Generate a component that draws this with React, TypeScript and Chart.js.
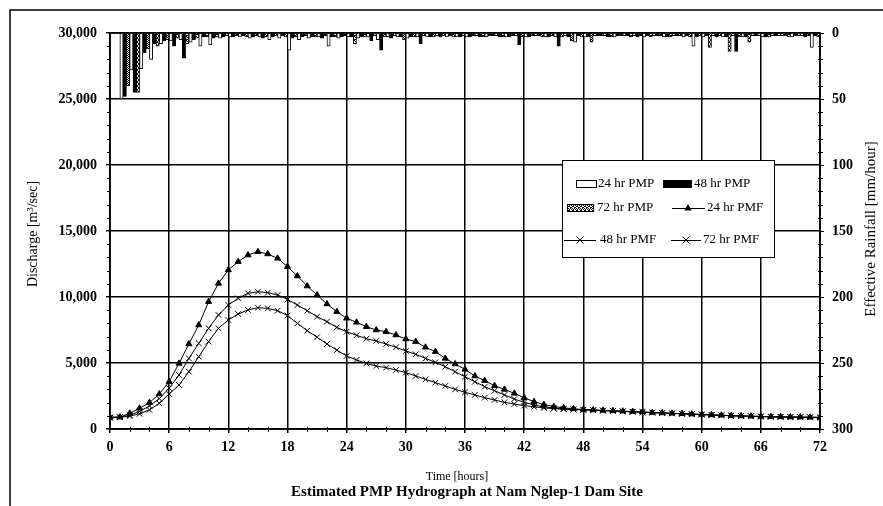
import React, { useEffect, useRef } from 'react';
import { Chart, registerables } from 'chart.js';
Chart.register(...registerables);

// ---------- DATA ----------
const hours = [
  0, 1, 2, 3, 4, 5, 6, 7, 8, 9, 10, 11, 12, 13, 14, 15, 16, 17, 18, 19, 20, 21, 22, 23, 24,
  25, 26, 27, 28, 29, 30, 31, 32, 33, 34, 35, 36, 37, 38, 39, 40, 41, 42, 43, 44, 45, 46, 47, 48,
  49, 50, 51, 52, 53, 54, 55, 56, 57, 58, 59, 60, 61, 62, 63, 64, 65, 66, 67, 68, 69, 70, 71, 72,
];

// Discharge (m3/sec), hourly 0..72
const pmf24 = [
  900, 900, 1190, 1570, 2000, 2650, 3590, 4970, 6440, 7880, 9650, 11030, 12050,
  12680, 13180, 13430, 13260, 12930, 12300,
  11590, 10830, 10150, 9470, 8890, 8390, 8080, 7750, 7500, 7370, 7120, 6820,
  6620, 6190, 5860, 5350, 4920, 4520, 4015, 3660, 3280, 3000, 2700, 2370, 2070,
  1850, 1700, 1600, 1530, 1480,
  1440, 1410, 1380, 1350, 1320, 1290, 1250, 1220, 1190, 1160, 1130, 1100,
  1070, 1040, 1010, 990, 970, 950, 930, 920, 910, 900, 890, 880,
];
const pmf48 = [
  880, 900, 1050, 1330, 1750, 2300, 3100, 4090, 5350, 6490, 7630, 8640, 9390,
  9900, 10280, 10400, 10330, 10150, 9820,
  9390, 8960, 8510, 8130, 7700, 7370, 7100, 6840, 6670, 6440, 6190, 5910,
  5660, 5350, 5050, 4720, 4340, 3960, 3580, 3200, 2900, 2580, 2270, 2020, 1820,
  1680, 1590, 1530, 1490, 1460,
  1430, 1400, 1370, 1340, 1310, 1280, 1250, 1220, 1190, 1160, 1130, 1100,
  1070, 1040, 1010, 990, 970, 950, 930, 920, 910, 900, 890, 880,
];
const pmf72 = [
  850, 880, 980, 1150, 1450, 1950, 2650, 3330, 4340, 5480, 6620, 7630, 8260,
  8710, 9020, 9190, 9140, 8960, 8600,
  8000, 7450, 6950, 6440, 5980, 5530, 5230, 4970, 4770, 4650, 4470, 4270,
  4015, 3760, 3510, 3260, 3000, 2780, 2580, 2370, 2200, 2020, 1890, 1770, 1680,
  1600, 1540, 1500, 1470, 1450,
  1420, 1390, 1360, 1330, 1300, 1270, 1240, 1210, 1180, 1150, 1120, 1090,
  1060, 1030, 1000, 980, 960, 940, 920, 910, 900, 890, 880, 870,
];

// Effective rainfall (mm/hour) for hourly intervals 0-1 .. 71-72
const pmp24 = [
  0, 50, 28, 27, 20, 8, 6, 5, 7, 10, 9, 4,
  3, 3, 4, 3, 5, 4, 13, 5, 4, 3, 10, 4,
  3, 4, 3, 5, 3, 3, 4, 3, 3, 2, 3, 3,
  3, 2, 3, 2, 3, 2, 3, 2, 3, 3, 2, 7,
  3, 2, 2, 3, 2, 2, 3, 2, 3, 2, 3, 10,
  3, 2, 3, 2, 3, 2, 3, 2, 2, 3, 2, 11,
];
const pmp48 = [
  0, 48, 45, 15, 8, 6, 10, 19, 5, 3, 4, 3,
  3, 2, 3, 4, 3, 2, 4, 3, 3, 4, 3, 3,
  3, 3, 6, 13, 4, 3, 3, 8, 3, 3, 2, 3,
  3, 3, 2, 3, 3, 9, 3, 2, 3, 10, 3, 2,
  3, 2, 3, 2, 2, 3, 2, 2, 3, 2, 2, 3,
  2, 3, 3, 14, 3, 2, 3, 2, 2, 2, 3, 2,
];
const pmp72 = [
  0, 40, 45, 12, 10, 5, 4, 8, 4, 3, 3, 2,
  2, 3, 2, 3, 2, 3, 3, 2, 3, 2, 3, 2,
  8, 3, 2, 3, 2, 5, 3, 2, 3, 2, 3, 2,
  2, 3, 2, 3, 2, 3, 2, 3, 2, 3, 6, 3,
  7, 2, 3, 2, 3, 2, 3, 2, 3, 2, 3, 2,
  11, 2, 14, 3, 7, 2, 3, 2, 3, 2, 2, 3,
];

const xTicks = [0, 6, 12, 18, 24, 30, 36, 42, 48, 54, 60, 66, 72];
const leftTicks = [0, 5000, 10000, 15000, 20000, 25000, 30000];
const rightTicks = [0, 50, 100, 150, 200, 250, 300];

const seriesNames = ['24 hr PMP', '48 hr PMP', '72 hr PMP', '24 hr PMF', '48 hr PMF', '72 hr PMF'];
const xTitle = 'Time [hours]';
const leftTitle = 'Discharge [m³/sec]';
const rightTitle = 'Effective Rainfall [mm/hour]';
const chartTitle = 'Estimated PMP Hydrograph at Nam Nglep-1 Dam Site';

// ---------- HELPERS ----------
const SERIF = '"Liberation Serif", "Times New Roman", serif';

function makePattern(): CanvasPattern | string {
  const c = document.createElement('canvas');
  c.width = 4;
  c.height = 4;
  const g = c.getContext('2d');
  if (!g) return '#777';
  g.fillStyle = '#fff';
  g.fillRect(0, 0, 4, 4);
  g.fillStyle = '#000';
  const dots = [[0, 0], [2, 0], [1, 1], [3, 1], [0, 2], [1, 2], [3, 3], [2, 3]];
  dots.forEach(([x, y]) => g.fillRect(x, y, 1, 1));
  return g.createPattern(c, 'repeat') || '#777';
}

function drawTriangle(ctx: CanvasRenderingContext2D, x: number, y: number, r: number) {
  ctx.beginPath();
  ctx.moveTo(x, y - r);
  ctx.lineTo(x + r * 0.9, y + r * 0.6);
  ctx.lineTo(x - r * 0.9, y + r * 0.6);
  ctx.closePath();
  ctx.fill();
}
function drawCross(ctx: CanvasRenderingContext2D, x: number, y: number, r: number) {
  ctx.beginPath();
  ctx.moveTo(x - r, y - r);
  ctx.lineTo(x + r, y + r);
  ctx.moveTo(x + r, y - r);
  ctx.lineTo(x - r, y + r);
  ctx.stroke();
}

export default function App() {
  const ref = useRef<HTMLCanvasElement | null>(null);

  useEffect(() => {
    if (!ref.current) return;
    const pattern = makePattern();

    const decor = {
      id: 'decor',
      afterDraw(chart: any) {
        const { ctx, chartArea: a, scales } = chart;
        ctx.save();
        // outer frame (top & left)
        ctx.strokeStyle = '#000';
        ctx.lineWidth = 1.5;
        ctx.beginPath();
        ctx.moveTo(10, 506);
        ctx.lineTo(10, 10);
        ctx.lineTo(883, 10);
        ctx.stroke();
        // plot border
        ctx.lineWidth = 1.5;
        ctx.strokeRect(a.left, a.top, a.right - a.left, a.bottom - a.top);
        // minor ticks
        ctx.lineWidth = 1;
        ctx.beginPath();
        for (let v = 1000; v < 30000; v += 1000) {
          if (v % 5000 === 0) continue;
          const p = Math.round(scales.y.getPixelForValue(v)) + 0.5;
          ctx.moveTo(a.left - 3, p);
          ctx.lineTo(a.left, p);
        }
        for (let v = 10; v < 300; v += 10) {
          if (v % 50 === 0) continue;
          const p = Math.round(scales.y1.getPixelForValue(v)) + 0.5;
          ctx.moveTo(a.right - 2, p);
          ctx.lineTo(a.right + 3, p);
        }
        for (let v = 2; v < 72; v += 2) {
          if (v % 6 === 0) continue;
          const p = Math.round(scales.x.getPixelForValue(v)) + 0.5;
          ctx.moveTo(p, a.bottom - 2);
          ctx.lineTo(p, a.bottom + 3);
        }
        ctx.stroke();

        // legend box
        const L = 562, T = 160, R = 774, B = 257;
        ctx.fillStyle = '#fff';
        ctx.fillRect(L, T, R - L, B - T);
        ctx.lineWidth = 1;
        ctx.strokeStyle = '#000';
        ctx.strokeRect(L + 0.5, T + 0.5, R - L, B - T);
        ctx.font = `13px ${SERIF}`;
        ctx.textBaseline = 'middle';
        ctx.textAlign = 'left';
        const r1 = 184, r2 = 208, r3 = 240;
        // row 1
        ctx.fillStyle = '#fff';
        ctx.fillRect(576, r1 - 4, 21, 8);
        ctx.strokeRect(576.5, r1 - 3.5, 20, 7);
        ctx.fillStyle = '#000';
        ctx.fillText(seriesNames[0], 598, r1);
        ctx.fillRect(663, r1 - 4, 29, 8);
        ctx.fillText(seriesNames[1], 694, r1);
        // row 2
        ctx.fillStyle = pattern as any;
        ctx.fillRect(567, r2 - 4, 27, 8);
        ctx.strokeRect(567.5, r2 - 3.5, 26, 7);
        ctx.fillStyle = '#000';
        ctx.fillText(seriesNames[2], 597, r2);
        ctx.beginPath();
        ctx.moveTo(672, r2 + 0.5);
        ctx.lineTo(705, r2 + 0.5);
        ctx.stroke();
        drawTriangle(ctx, 688, r2, 4);
        ctx.fillText(seriesNames[3], 707, r2);
        // row 3
        ctx.beginPath();
        ctx.moveTo(564, r3 + 0.5);
        ctx.lineTo(596, r3 + 0.5);
        ctx.stroke();
        drawCross(ctx, 580, r3, 3.5);
        ctx.fillText(seriesNames[4], 600, r3);
        ctx.beginPath();
        ctx.moveTo(671, r3 + 0.5);
        ctx.lineTo(701, r3 + 0.5);
        ctx.stroke();
        drawCross(ctx, 686, r3, 3.5);
        ctx.fillText(seriesNames[5], 703, r3);

        // titles
        ctx.fillStyle = '#000';
        ctx.textAlign = 'center';
        ctx.textBaseline = 'middle';
        ctx.font = `12px ${SERIF}`;
        ctx.fillText(xTitle, 457, 477);
        ctx.font = `bold 15px ${SERIF}`;
        ctx.fillText(chartTitle, 467, 492);
        ctx.font = `14px ${SERIF}`;
        ctx.save();
        ctx.translate(33, 234);
        ctx.rotate(-Math.PI / 2);
        ctx.fillText(leftTitle, 0, 0);
        ctx.restore();
        ctx.font = `15px ${SERIF}`;
        ctx.save();
        ctx.translate(871, 229);
        ctx.rotate(-Math.PI / 2);
        ctx.fillText(rightTitle, 0, 0);
        ctx.restore();
        ctx.restore();
      },
    };

    const barData = (arr: number[]) => arr.map((v, i) => ({ x: hours[i] + 0.5, y: v }));
    const lineData = (arr: number[]) => arr.map((v, i) => ({ x: hours[i], y: v }));

    const tickFont = { family: SERIF, size: 14, weight: 'bold' as const };

    const chart = new Chart(ref.current, {
      type: 'bar',
      data: {
        datasets: [
          {
            type: 'bar', label: seriesNames[0], data: barData(pmp24), yAxisID: 'y1',
            backgroundColor: '#fff', borderColor: '#000', borderWidth: 1,
            barPercentage: 1, categoryPercentage: 1,
          },
          {
            type: 'bar', label: seriesNames[1], data: barData(pmp48), yAxisID: 'y1',
            backgroundColor: '#000', borderColor: '#000', borderWidth: 1,
            barPercentage: 1, categoryPercentage: 1,
          },
          {
            type: 'bar', label: seriesNames[2], data: barData(pmp72), yAxisID: 'y1',
            backgroundColor: pattern as any, borderColor: '#000', borderWidth: 1,
            barPercentage: 1, categoryPercentage: 1,
          },
          {
            type: 'line', label: seriesNames[3], data: lineData(pmf24), yAxisID: 'y',
            borderColor: '#000', borderWidth: 1, pointStyle: 'triangle', pointRadius: 3.5,
            pointBackgroundColor: '#000', pointBorderColor: '#000', pointBorderWidth: 1, tension: 0,
          },
          {
            type: 'line', label: seriesNames[4], data: lineData(pmf48), yAxisID: 'y',
            borderColor: '#000', borderWidth: 1, pointStyle: 'crossRot', pointRadius: 4,
            pointBorderColor: '#000', pointBorderWidth: 1, tension: 0,
          },
          {
            type: 'line', label: seriesNames[5], data: lineData(pmf72), yAxisID: 'y',
            borderColor: '#000', borderWidth: 1, pointStyle: 'crossRot', pointRadius: 4,
            pointBorderColor: '#000', pointBorderWidth: 1, tension: 0,
          },
        ] as any,
      },
      options: {
        responsive: false,
        animation: false,
        devicePixelRatio: 1,
        layout: { padding: { top: 33, left: 0, right: 0, bottom: 0 } },
        plugins: { legend: { display: false }, tooltip: { enabled: false }, title: { display: false } },
        scales: {
          x: {
            type: 'linear', min: 0, max: 72, offset: false,
            afterFit: (s: any) => { s.height = 77; },
            afterBuildTicks: (s: any) => { s.ticks = xTicks.map((v) => ({ value: v })); },
            grid: { color: '#000', lineWidth: 1.5, tickLength: 4, offset: false, tickColor: '#000' },
            border: { color: '#000', width: 1.5 },
            ticks: { color: '#000', font: tickFont, padding: 6, maxRotation: 0 },
          },
          y: {
            type: 'linear', position: 'left', min: 0, max: 30000,
            afterFit: (s: any) => { s.width = 110; },
            afterBuildTicks: (s: any) => { s.ticks = leftTicks.map((v) => ({ value: v })); },
            grid: { color: '#000', lineWidth: 1.5, tickLength: 4, tickColor: '#000' },
            border: { color: '#000', width: 1.5 },
            ticks: {
              color: '#000', font: tickFont, padding: 9,
              callback: (v: any) => Number(v).toLocaleString('en-US'),
            },
          },
          y1: {
            type: 'linear', position: 'right', min: 0, max: 300, reverse: true,
            afterFit: (s: any) => { s.width = 63; },
            afterBuildTicks: (s: any) => { s.ticks = rightTicks.map((v) => ({ value: v })); },
            grid: { drawOnChartArea: false, tickLength: 4, tickColor: '#000' },
            border: { color: '#000', width: 1.5 },
            ticks: { color: '#000', font: tickFont, padding: 8 },
          },
        },
      } as any,
      plugins: [decor],
    });
    return () => chart.destroy();
  }, []);

  return (
    <div style={{ position: 'fixed', left: 0, top: 0, width: 883, height: 506, background: '#fff' }}>
      <canvas ref={ref} width={883} height={506} style={{ display: 'block' }} />
    </div>
  );
}
